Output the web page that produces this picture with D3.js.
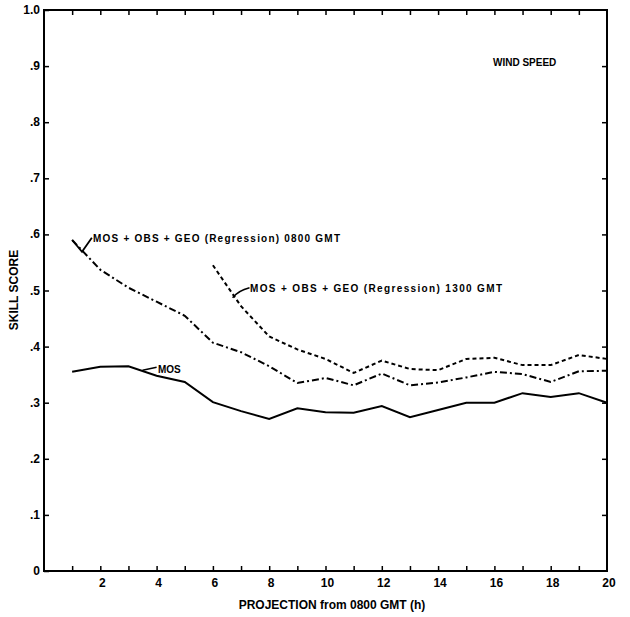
<!DOCTYPE html>
<html>
<head>
<meta charset="utf-8">
<script src="https://cdn.jsdelivr.net/npm/d3@7"></script>
<style>
  html, body { margin: 0; padding: 0; background: #fff; }
  svg { display: block; }
  text { font-family: "Liberation Sans", Arial, sans-serif; font-weight: bold; fill: #000; }
</style>
</head>
<body>
<svg id="chart" width="630" height="617"></svg>
<script>
// ---- data ----
const hours = [1,2,3,4,5,6,7,8,9,10,11,12,13,14,15,16,17,18,19,20];
const mos = [0.355,0.364,0.365,0.348,0.337,0.301,0.285,0.271,0.290,0.283,0.282,0.294,0.274,0.287,0.300,0.300,0.317,0.310,0.317,0.300];
const reg0800 = [0.590,0.537,0.505,0.480,0.455,0.407,0.390,0.365,0.335,0.344,0.331,0.352,0.331,0.336,0.345,0.355,0.351,0.337,0.356,0.357];
const hours1300 = [6,7,8,9,10,11,12,13,14,15,16,17,18,19,20];
const reg1300 = [0.545,0.472,0.418,0.395,0.378,0.353,0.375,0.360,0.358,0.378,0.380,0.367,0.367,0.385,0.378];
const yTickValues = [0,0.1,0.2,0.3,0.4,0.5,0.6,0.7,0.8,0.9,1.0];
const yTickLabels = ["0",".1",".2",".3",".4",".5",".6",".7",".8",".9","1.0"];
const xLabelValues = [2,4,6,8,10,12,14,16,18,20];
const xMinorValues = [1,2,3,4,5,6,7,8,9,10,11,12,13,14,15,16,17,18,19];

const svg = d3.select("#chart");
const L = 44, R = 607, T = 10, B = 571;
const x = d3.scaleLinear().domain([0, 20]).range([L, R]);
const y = d3.scaleLinear().domain([0, 1]).range([B, T]);

// frame
svg.append("rect").attr("x", L).attr("y", T).attr("width", R - L).attr("height", B - T)
  .attr("fill", "none").attr("stroke", "#000").attr("stroke-width", 2);

// left axis (inward ticks) with labels
const yAxisL = d3.axisRight(y).tickValues(yTickValues).tickSize(5).tickFormat("");
svg.append("g").attr("transform", `translate(${L},0)`).call(yAxisL)
  .call(g => g.select(".domain").remove())
  .call(g => g.selectAll("line").attr("stroke", "#000").attr("stroke-width", 1.5));
svg.append("g").selectAll("text").data(yTickValues).join("text")
  .attr("x", L - 4).attr("y", d => y(d) + 4).attr("text-anchor", "end")
  .attr("font-size", 12).text((d, i) => yTickLabels[i]);

// right axis inward ticks
const yAxisR = d3.axisLeft(y).tickValues(yTickValues.slice(1, -1)).tickSize(5).tickFormat("");
svg.append("g").attr("transform", `translate(${R},0)`).call(yAxisR)
  .call(g => g.select(".domain").remove())
  .call(g => g.selectAll("line").attr("stroke", "#000").attr("stroke-width", 1.5));

// bottom axis inward ticks
const xAxisB = d3.axisTop(x).tickValues(xMinorValues).tickSize(5).tickFormat("");
svg.append("g").attr("transform", `translate(0,${B})`).call(xAxisB)
  .call(g => g.select(".domain").remove())
  .call(g => g.selectAll("line").attr("stroke", "#000").attr("stroke-width", 1.5));
// top axis inward ticks
const xAxisT = d3.axisBottom(x).tickValues(xMinorValues).tickSize(5).tickFormat("");
svg.append("g").attr("transform", `translate(0,${T})`).call(xAxisT)
  .call(g => g.select(".domain").remove())
  .call(g => g.selectAll("line").attr("stroke", "#000").attr("stroke-width", 1.5));

// x labels
svg.append("g").selectAll("text").data(xLabelValues).join("text")
  .attr("x", d => x(d) + 2).attr("y", B + 16).attr("text-anchor", "middle")
  .attr("font-size", 12).text(d => d);
svg.append("text").attr("x", 332).attr("y", 609).attr("text-anchor", "middle")
  .attr("font-size", 12).text("PROJECTION from 0800 GMT (h)");
svg.append("text").attr("transform", "translate(18,290) rotate(-90)")
  .attr("text-anchor", "middle").attr("font-size", 12).text("SKILL SCORE");

// lines
const line = d3.line().x(d => x(d[0])).y(d => y(d[1]));
svg.append("path").datum(hours.map((h, i) => [h, mos[i]])).attr("d", line)
  .attr("fill", "none").attr("stroke", "#000").attr("stroke-width", 2);
svg.append("path").datum(hours.map((h, i) => [h, reg0800[i]])).attr("d", line)
  .attr("fill", "none").attr("stroke", "#000").attr("stroke-width", 2)
  .attr("stroke-dasharray", "7,3,2,3");
svg.append("path").datum(hours1300.map((h, i) => [h, reg1300[i]])).attr("d", line)
  .attr("fill", "none").attr("stroke", "#000").attr("stroke-width", 2)
  .attr("stroke-dasharray", "4,3");

// annotations
const ann = svg.append("g");
ann.append("path").attr("d", `M${x(1)},${y(0.59)} L${x(1.35)},${y(0.569)} L${x(1.7)},${y(0.594)}`)
  .attr("fill", "none").attr("stroke", "#000").attr("stroke-width", 1.8);
ann.append("text").attr("x", 93).attr("y", 242).attr("font-size", 10)
  .attr("textLength", 247).attr("lengthAdjust", "spacing")
  .text("MOS + OBS + GEO (Regression) 0800 GMT");
ann.append("path").attr("d", `M${x(6.7)},${y(0.487)} Q${x(6.9)},${y(0.5)} ${x(7.3)},${y(0.505)}`)
  .attr("fill", "none").attr("stroke", "#000").attr("stroke-width", 1.5);
ann.append("text").attr("x", 250).attr("y", 292).attr("font-size", 10)
  .attr("textLength", 252).attr("lengthAdjust", "spacing")
  .text("MOS + OBS + GEO (Regression) 1300 GMT");
ann.append("path").attr("d", `M${x(3.5)},${y(0.358)} L${x(4.0)},${y(0.363)}`)
  .attr("fill", "none").attr("stroke", "#000").attr("stroke-width", 1.5);
ann.append("text").attr("x", 158).attr("y", 373).attr("font-size", 10).text("MOS");
ann.append("text").attr("x", 493).attr("y", 66).attr("font-size", 10).text("WIND SPEED");
</script>
</body>
</html>
